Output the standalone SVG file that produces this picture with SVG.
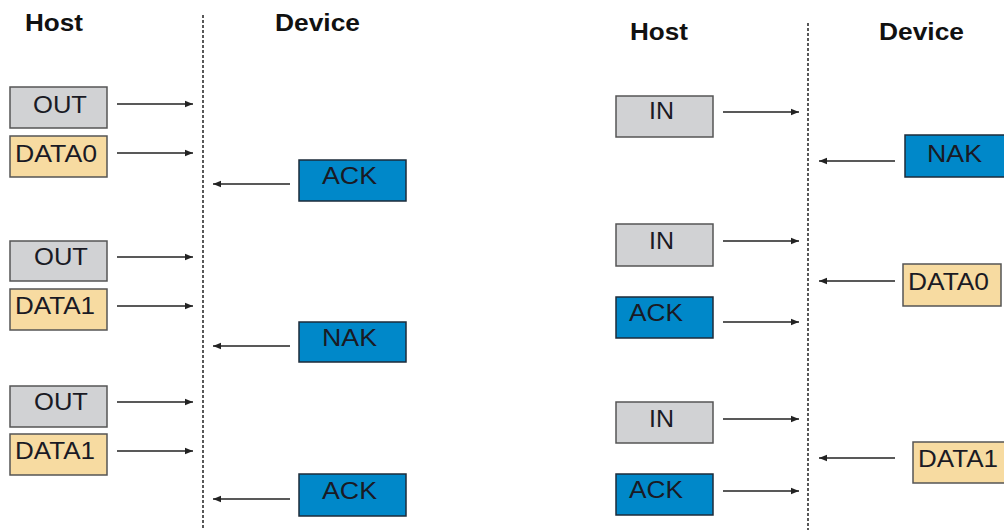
<svg xmlns="http://www.w3.org/2000/svg" width="1004" height="530" viewBox="0 0 1004 530">
<style>
.hdr{font-family:"Liberation Sans",Arial,sans-serif;font-weight:bold;font-size:23px;fill:#111}
.lbl{font-family:"Liberation Sans",Arial,sans-serif;font-size:23px;fill:#1a1a24}
.g{fill:#d1d2d4;stroke:#555;stroke-width:1.5}
.t{fill:#f7dba1;stroke:#555;stroke-width:1.5}
.b{fill:#0088c9;stroke:#1d2b3a;stroke-width:1.5}
.dash{stroke:#222;stroke-width:1.5;stroke-dasharray:3 2;fill:none}
.arr{stroke:#222;stroke-width:1.5;fill:none;marker-end:url(#ah)}
</style>
<defs>
<marker id="ah" viewBox="0 0 10 10" refX="10" refY="5" markerWidth="9" markerHeight="8" markerUnits="userSpaceOnUse" orient="auto">
<path d="M0,1 L10,5 L0,9 z" fill="#222"/>
</marker>
</defs>
<rect width="1004" height="530" fill="#fff"/>
<g id="headers">
<text class="hdr" x="25" y="31" textLength="58" lengthAdjust="spacingAndGlyphs">Host</text>
<text class="hdr" x="275" y="31" textLength="85" lengthAdjust="spacingAndGlyphs">Device</text>
<text class="hdr" x="630" y="40" textLength="58" lengthAdjust="spacingAndGlyphs">Host</text>
<text class="hdr" x="879" y="40" textLength="85" lengthAdjust="spacingAndGlyphs">Device</text>
</g>
<g id="lifelines">
<line class="dash" x1="203" y1="15" x2="203" y2="530"/>
<line class="dash" x1="808" y1="23" x2="808" y2="530"/>
</g>
<g id="n1"><rect class="g" x="10" y="87" width="97" height="41"/><text class="lbl" x="33" y="113" textLength="54" lengthAdjust="spacingAndGlyphs">OUT</text></g>
<g id="n2"><rect class="t" x="10" y="136" width="97" height="41"/><text class="lbl" x="15" y="162" textLength="82" lengthAdjust="spacingAndGlyphs">DATA0</text></g>
<g id="n3"><rect class="b" x="299" y="160" width="107" height="41"/><text class="lbl" x="322" y="184" textLength="55" lengthAdjust="spacingAndGlyphs">ACK</text></g>
<g id="n4"><rect class="g" x="10" y="241" width="97" height="40"/><text class="lbl" x="34" y="265" textLength="54" lengthAdjust="spacingAndGlyphs">OUT</text></g>
<g id="n5"><rect class="t" x="10" y="289" width="97" height="41"/><text class="lbl" x="15" y="314" textLength="80" lengthAdjust="spacingAndGlyphs">DATA1</text></g>
<g id="n6"><rect class="b" x="299" y="322" width="107" height="40"/><text class="lbl" x="322" y="346" textLength="55" lengthAdjust="spacingAndGlyphs">NAK</text></g>
<g id="n7"><rect class="g" x="10" y="386" width="97" height="41"/><text class="lbl" x="34" y="410" textLength="54" lengthAdjust="spacingAndGlyphs">OUT</text></g>
<g id="n8"><rect class="t" x="10" y="434" width="97" height="41"/><text class="lbl" x="15" y="459" textLength="80" lengthAdjust="spacingAndGlyphs">DATA1</text></g>
<g id="n9"><rect class="b" x="299" y="474" width="107" height="42"/><text class="lbl" x="322" y="499" textLength="55" lengthAdjust="spacingAndGlyphs">ACK</text></g>
<g id="m1"><rect class="g" x="616" y="96" width="97" height="41"/><text class="lbl" x="649" y="119" textLength="25" lengthAdjust="spacingAndGlyphs">IN</text></g>
<g id="m2"><rect class="b" x="905" y="135" width="105" height="42"/><text class="lbl" x="927" y="162" textLength="55" lengthAdjust="spacingAndGlyphs">NAK</text></g>
<g id="m3"><rect class="g" x="616" y="224" width="97" height="42"/><text class="lbl" x="649" y="249" textLength="25" lengthAdjust="spacingAndGlyphs">IN</text></g>
<g id="m4"><rect class="t" x="903" y="264" width="98" height="42"/><text class="lbl" x="908" y="290" textLength="81" lengthAdjust="spacingAndGlyphs">DATA0</text></g>
<g id="m5"><rect class="b" x="616" y="297" width="97" height="41"/><text class="lbl" x="629" y="321" textLength="54" lengthAdjust="spacingAndGlyphs">ACK</text></g>
<g id="m6"><rect class="g" x="616" y="402" width="97" height="41"/><text class="lbl" x="649" y="427" textLength="25" lengthAdjust="spacingAndGlyphs">IN</text></g>
<g id="m7"><rect class="t" x="913" y="442" width="98" height="41"/><text class="lbl" x="918" y="467" textLength="80" lengthAdjust="spacingAndGlyphs">DATA1</text></g>
<g id="m8"><rect class="b" x="616" y="474" width="97" height="41"/><text class="lbl" x="629" y="498" textLength="54" lengthAdjust="spacingAndGlyphs">ACK</text></g>
<g id="connectors">
<line class="arr" x1="117" y1="104" x2="193" y2="104"/>
<line class="arr" x1="117" y1="153" x2="193" y2="153"/>
<line class="arr" x1="290" y1="184" x2="213" y2="184"/>
<line class="arr" x1="117" y1="257" x2="193" y2="257"/>
<line class="arr" x1="117" y1="306" x2="193" y2="306"/>
<line class="arr" x1="290" y1="346" x2="213" y2="346"/>
<line class="arr" x1="117" y1="402" x2="193" y2="402"/>
<line class="arr" x1="117" y1="451" x2="193" y2="451"/>
<line class="arr" x1="290" y1="499" x2="213" y2="499"/>
<line class="arr" x1="723" y1="112" x2="799" y2="112"/>
<line class="arr" x1="895" y1="161" x2="819" y2="161"/>
<line class="arr" x1="723" y1="241" x2="799" y2="241"/>
<line class="arr" x1="895" y1="281" x2="819" y2="281"/>
<line class="arr" x1="723" y1="322" x2="799" y2="322"/>
<line class="arr" x1="723" y1="419" x2="799" y2="419"/>
<line class="arr" x1="895" y1="458" x2="819" y2="458"/>
<line class="arr" x1="723" y1="491" x2="799" y2="491"/>
</g>
</svg>
